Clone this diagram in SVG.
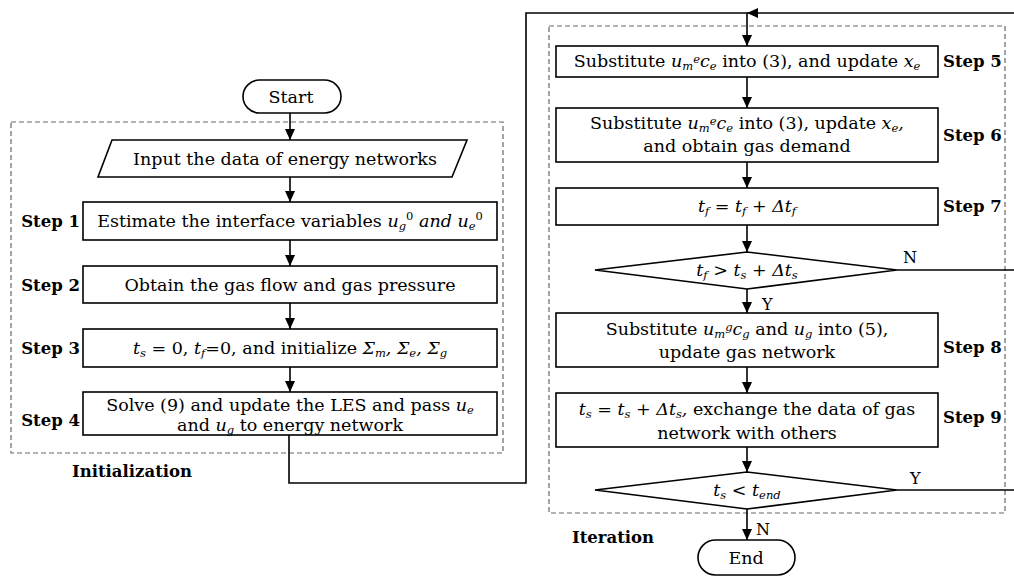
<svg xmlns="http://www.w3.org/2000/svg" width="1014" height="578" viewBox="0 0 1014 578">
<style>
text{font-family:"DejaVu Serif","Liberation Serif",serif;font-size:17.5px;fill:#000}
.c{text-anchor:middle}
.b{font-weight:bold;font-size:16.5px}
.i{font-style:italic}
.s{font-size:11.5px}
.box{fill:#fff;stroke:#000;stroke-width:1.6}
.dash{fill:none;stroke:#666;stroke-width:1.2;stroke-dasharray:5,3}
.ln{fill:none;stroke:#000;stroke-width:1.6}
</style>
<defs>
<marker id="ah" markerUnits="userSpaceOnUse" markerWidth="12" markerHeight="10" refX="11" refY="5" orient="auto">
<path d="M0,0 L11,5 L0,10 z" fill="#000"/>
</marker>
</defs>
<rect class="dash" x="11" y="122" width="492" height="331"/>
<rect class="dash" x="549" y="26" width="456" height="487"/>
<g id="connectors">
<line class="ln" x1="290" y1="113" x2="290" y2="140" marker-end="url(#ah)"/>
<line class="ln" x1="290" y1="177" x2="290" y2="202" marker-end="url(#ah)"/>
<line class="ln" x1="290" y1="240" x2="290" y2="266" marker-end="url(#ah)"/>
<line class="ln" x1="290" y1="303" x2="290" y2="329" marker-end="url(#ah)"/>
<line class="ln" x1="290" y1="367" x2="290" y2="392" marker-end="url(#ah)"/>
<polyline class="ln" points="289,435 289,483 526,483 526,13 747,13"/>
<line class="ln" x1="1014" y1="13" x2="747" y2="13" marker-end="url(#ah)"/>
<line class="ln" x1="747" y1="13" x2="747" y2="46" marker-end="url(#ah)"/>
<line class="ln" x1="747" y1="77" x2="747" y2="108" marker-end="url(#ah)"/>
<line class="ln" x1="747" y1="162" x2="747" y2="188" marker-end="url(#ah)"/>
<line class="ln" x1="747" y1="225" x2="747" y2="252" marker-end="url(#ah)"/>
<line class="ln" x1="747" y1="289" x2="747" y2="313" marker-end="url(#ah)"/>
<line class="ln" x1="897" y1="270" x2="1014" y2="270"/>
<line class="ln" x1="747" y1="367" x2="747" y2="393" marker-end="url(#ah)"/>
<line class="ln" x1="747" y1="447" x2="747" y2="472" marker-end="url(#ah)"/>
<line class="ln" x1="897" y1="490" x2="1014" y2="490"/>
<line class="ln" x1="747" y1="509" x2="747" y2="540" marker-end="url(#ah)"/>
<text x="903" y="263" style="font-size:16px">N</text>
<text x="762" y="310" style="font-size:16px">Y</text>
<text x="910" y="484" style="font-size:16px">Y</text>
<text x="756" y="535" style="font-size:16px">N</text>
</g>
<g id="start">
<rect class="box" x="243" y="80" width="98" height="33" rx="16.5"/>
<text class="c" x="291" y="103">Start</text>
</g>
<g id="input">
<polygon class="box" points="112,140 467,140 452,177 98,177"/>
<text class="c" x="285" y="165">Input the data of energy networks</text>
</g>
<g id="step1">
<rect class="box" x="83" y="202" width="414" height="38"/>
<text class="b" x="80" y="227" text-anchor="end">Step 1</text>
<text class="c" x="290" y="227">Estimate the interface variables <tspan class="i">u</tspan><tspan class="s i" dy="3">g</tspan><tspan class="s" dy="-10">0</tspan><tspan class="i" dy="7"> and u</tspan><tspan class="s i" dy="3">e</tspan><tspan class="s" dy="-10">0</tspan></text>
</g>
<g id="step2">
<rect class="box" x="83" y="266" width="414" height="37"/>
<text class="b" x="80" y="291" text-anchor="end">Step 2</text>
<text class="c" x="290" y="291">Obtain the gas flow and gas pressure</text>
</g>
<g id="step3">
<rect class="box" x="83" y="329" width="414" height="38"/>
<text class="b" x="80" y="354" text-anchor="end">Step 3</text>
<text class="c" x="290" y="354"><tspan class="i">t</tspan><tspan class="s i" dy="3">s</tspan><tspan dy="-3"> = 0, </tspan><tspan class="i">t</tspan><tspan class="s i" dy="3">f</tspan><tspan dy="-3">=0, and initialize </tspan><tspan class="i">Σ</tspan><tspan class="s i" dy="3">m</tspan><tspan class="i" dy="-3">, Σ</tspan><tspan class="s i" dy="3">e</tspan><tspan class="i" dy="-3">, Σ</tspan><tspan class="s i" dy="3">g</tspan></text>
</g>
<g id="step4">
<rect class="box" x="83" y="392" width="414" height="43"/>
<text class="b" x="80" y="426" text-anchor="end">Step 4</text>
<text class="c" x="290" y="411">Solve (9) and update the LES and pass <tspan class="i">u</tspan><tspan class="s i" dy="3">e</tspan></text>
<text class="c" x="290" y="431">and <tspan class="i">u</tspan><tspan class="s i" dy="3">g</tspan><tspan dy="-3"> to energy network</tspan></text>
</g>
<text class="b" x="72" y="477">Initialization</text>
<g id="step5">
<rect class="box" x="556" y="46" width="382" height="31"/>
<text class="c" x="747" y="67">Substitute <tspan class="i">u</tspan><tspan class="s i" dy="3">m</tspan><tspan class="s i" dy="-7">e</tspan><tspan class="i" dy="4">c</tspan><tspan class="s i" dy="3">e</tspan><tspan dy="-3"> into (3), and update </tspan><tspan class="i">x</tspan><tspan class="s i" dy="3">e</tspan></text>
<text class="b" x="943" y="67">Step 5</text>
</g>
<g id="step6">
<rect class="box" x="556" y="108" width="382" height="54"/>
<text class="c" x="747" y="129">Substitute <tspan class="i">u</tspan><tspan class="s i" dy="3">m</tspan><tspan class="s i" dy="-7">e</tspan><tspan class="i" dy="4">c</tspan><tspan class="s i" dy="3">e</tspan><tspan dy="-3"> into (3), update </tspan><tspan class="i">x</tspan><tspan class="s i" dy="3">e</tspan><tspan class="i" dy="-3">,</tspan></text>
<text class="c" x="747" y="152">and obtain gas demand</text>
<text class="b" x="943" y="141">Step 6</text>
</g>
<g id="step7">
<rect class="box" x="556" y="188" width="382" height="37"/>
<text class="c" x="747" y="212"><tspan class="i">t</tspan><tspan class="s i" dy="3">f</tspan><tspan dy="-3"> = </tspan><tspan class="i">t</tspan><tspan class="s i" dy="3">f</tspan><tspan dy="-3"> + </tspan><tspan class="i">Δt</tspan><tspan class="s i" dy="3">f</tspan></text>
<text class="b" x="943" y="212">Step 7</text>
</g>
<g id="decision1">
<polygon class="box" points="747,252 897,270 747,289 595,270"/>
<text class="c" x="747" y="276"><tspan class="i">t</tspan><tspan class="s i" dy="3">f</tspan><tspan dy="-3"> &gt; </tspan><tspan class="i">t</tspan><tspan class="s i" dy="3">s</tspan><tspan dy="-3"> + </tspan><tspan class="i">Δt</tspan><tspan class="s i" dy="3">s</tspan></text>
</g>
<g id="step8">
<rect class="box" x="556" y="313" width="382" height="54"/>
<text class="c" x="747" y="335">Substitute <tspan class="i">u</tspan><tspan class="s i" dy="3">m</tspan><tspan class="s i" dy="-7">g</tspan><tspan class="i" dy="4">c</tspan><tspan class="s i" dy="3">g</tspan><tspan dy="-3"> and  </tspan><tspan class="i">u</tspan><tspan class="s i" dy="3">g</tspan><tspan dy="-3"> into (5),</tspan></text>
<text class="c" x="747" y="358">update gas network</text>
<text class="b" x="943" y="353">Step 8</text>
</g>
<g id="step9">
<rect class="box" x="556" y="393" width="382" height="54"/>
<text class="c" x="747" y="415"><tspan class="i">t</tspan><tspan class="s i" dy="3">s</tspan><tspan dy="-3"> = </tspan><tspan class="i">t</tspan><tspan class="s i" dy="3">s</tspan><tspan dy="-3"> + </tspan><tspan class="i">Δt</tspan><tspan class="s i" dy="3">s</tspan><tspan class="i" dy="-3">,</tspan><tspan> exchange the data of gas</tspan></text>
<text class="c" x="747" y="439">network with others</text>
<text class="b" x="943" y="423">Step 9</text>
</g>
<g id="decision2">
<polygon class="box" points="747,472 897,490 747,509 595,490"/>
<text class="c" x="747" y="496"><tspan class="i">t</tspan><tspan class="s i" dy="3">s</tspan><tspan dy="-3"> &lt; </tspan><tspan class="i">t</tspan><tspan class="s i" dy="3">end</tspan></text>
</g>
<g id="end">
<rect class="box" x="698" y="540" width="97" height="35" rx="17.5"/>
<text class="c" x="746" y="564">End</text>
</g>
<text class="b" x="572" y="543">Iteration</text>
</svg>
